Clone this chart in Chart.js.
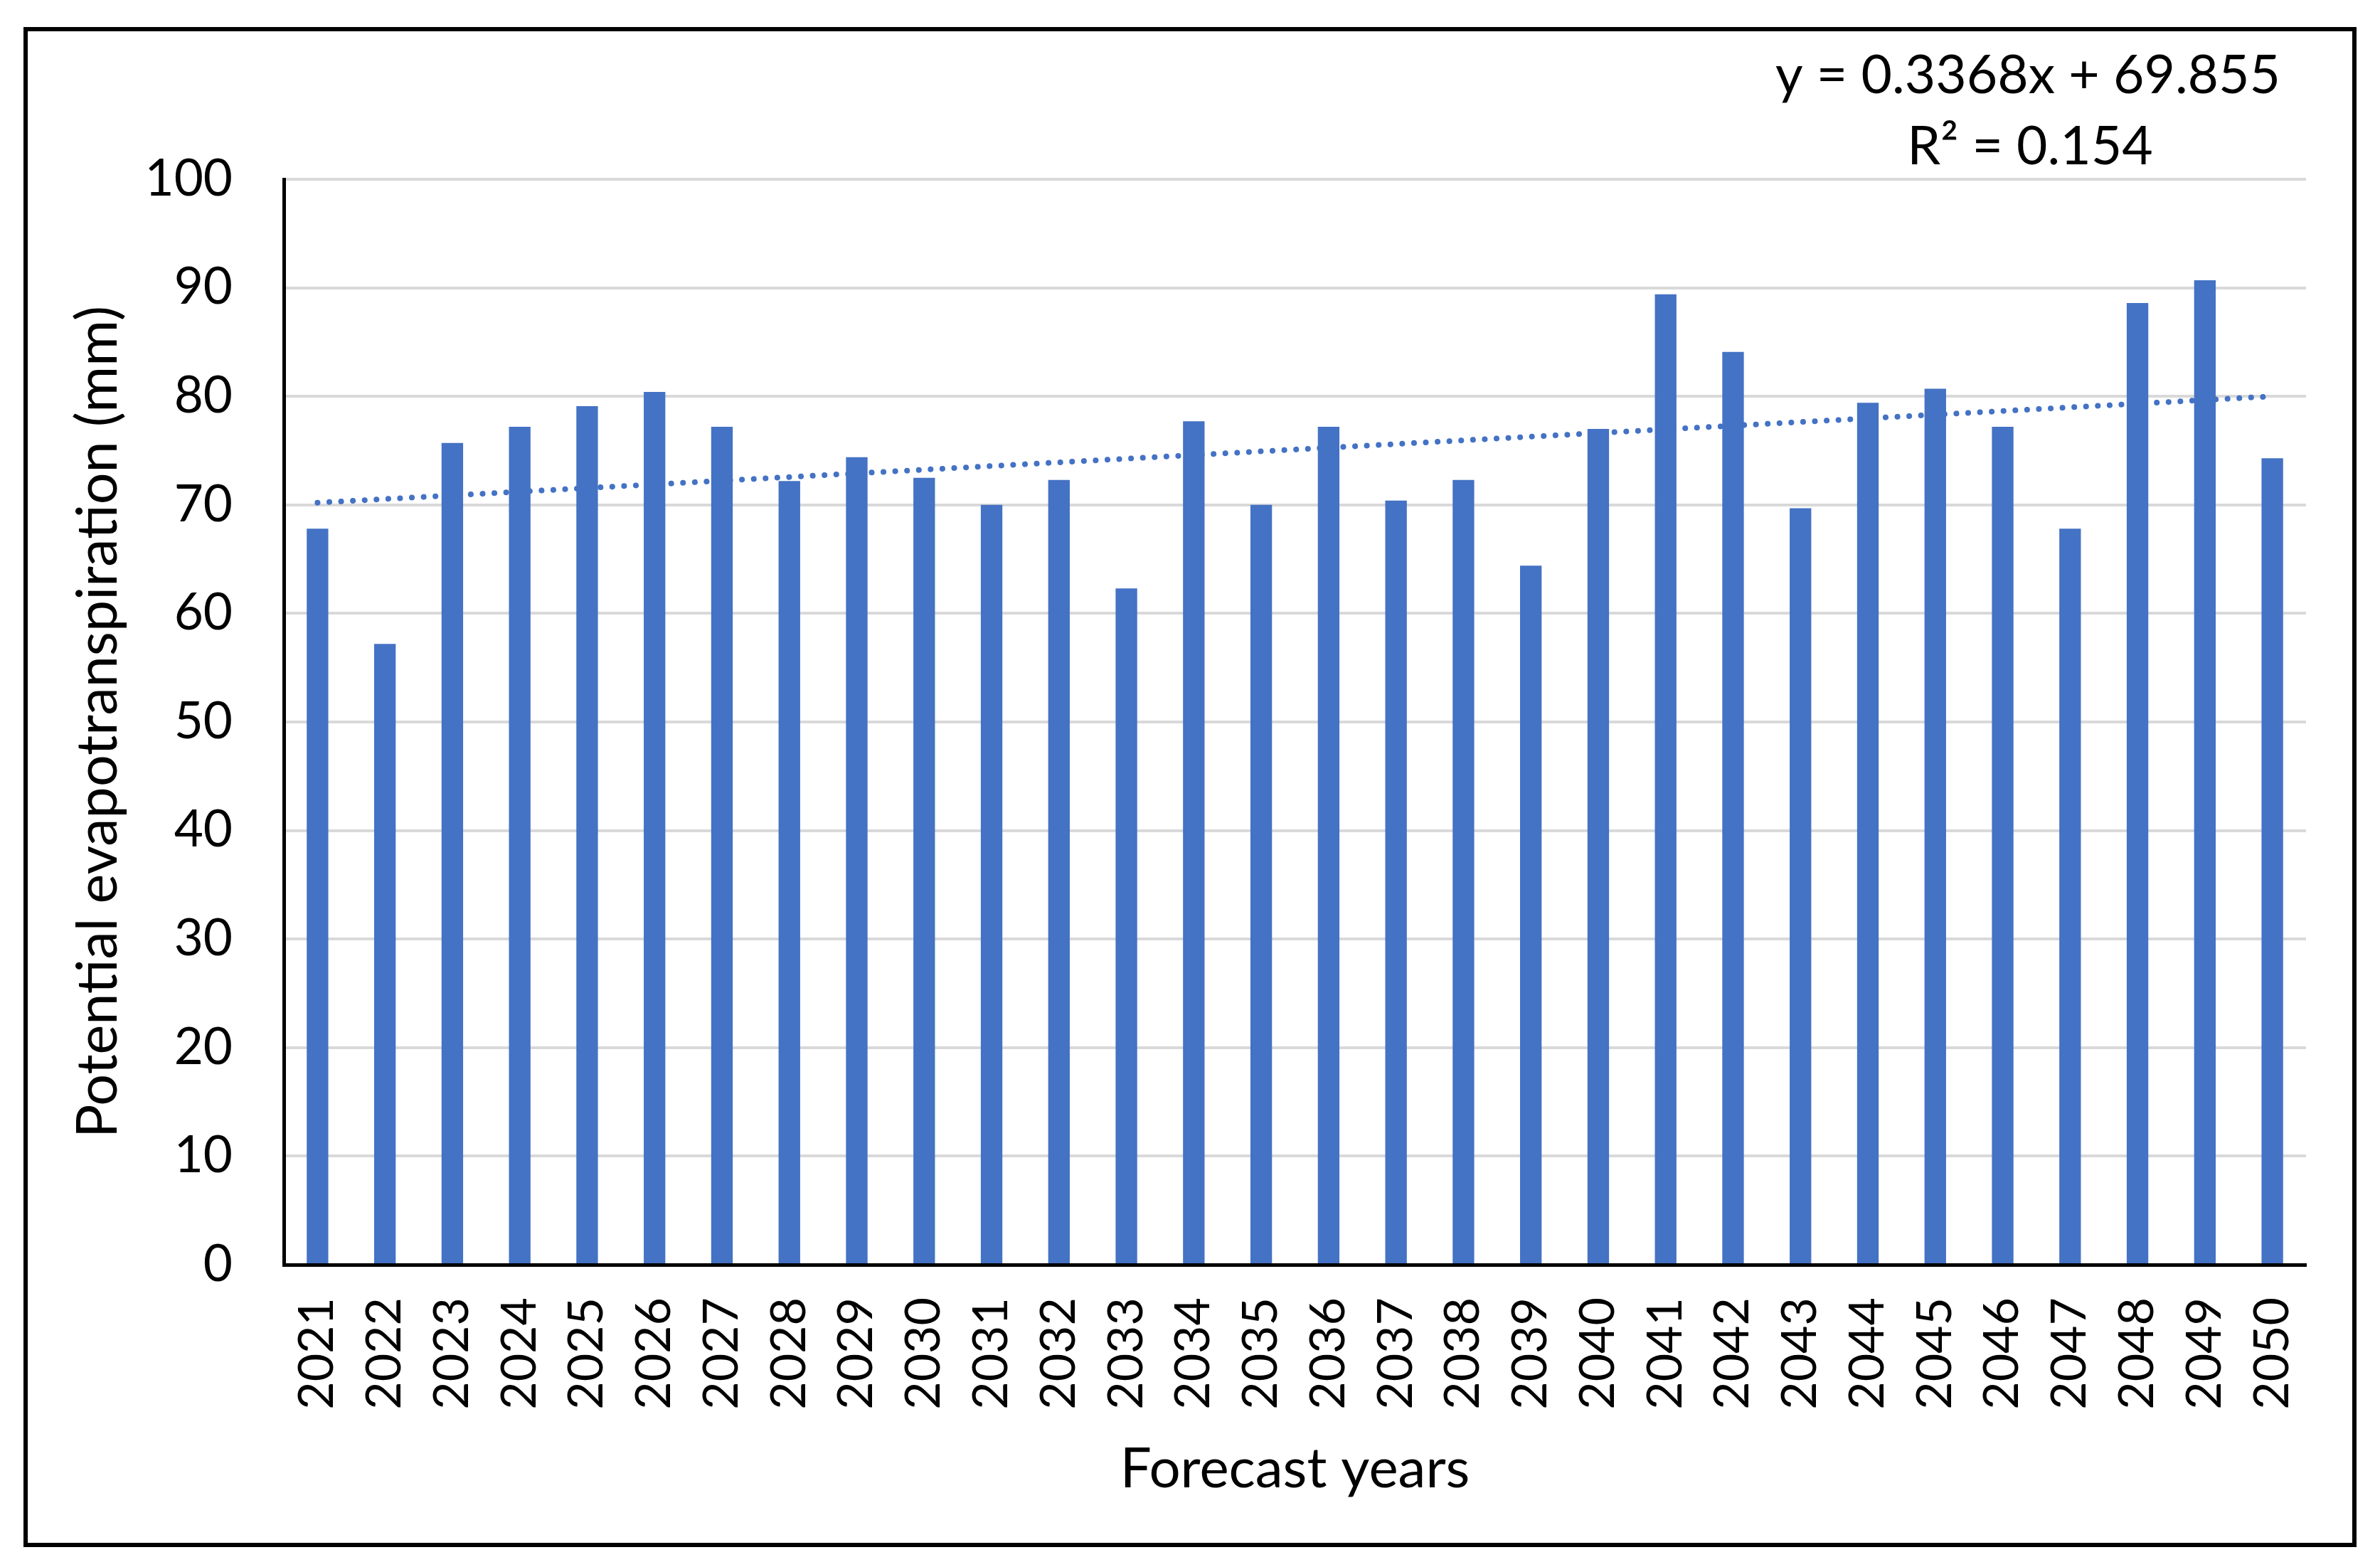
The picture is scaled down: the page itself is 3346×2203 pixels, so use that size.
<!DOCTYPE html>
<html>
<head>
<meta charset="utf-8">
<script src="https://cdn.jsdelivr.net/npm/chart.js@4.4.1/dist/chart.umd.min.js"></script>
<style>
  html, body { margin: 0; padding: 0; background: #ffffff; }
  #petCanvas { display: block; }
</style>
</head>
<body>
<canvas id="petCanvas" width="3346" height="2203" style="width:3346px;height:2203px;"></canvas>
<script>
// Données
var years = ["2021", "2022", "2023", "2024", "2025", "2026", "2027", "2028", "2029", "2030",
             "2031", "2032", "2033", "2034", "2035", "2036", "2037", "2038", "2039", "2040",
             "2041", "2042", "2043", "2044", "2045", "2046", "2047", "2048", "2049", "2050"];
var petValues = [67.8, 57.2, 75.7, 77.2, 79.1, 80.4, 77.2, 72.2, 74.4, 72.5,
                 70.0, 72.3, 62.3, 77.7, 70.0, 77.2, 70.4, 72.3, 64.4, 77.0,
                 89.4, 84.1, 69.7, 79.4, 80.7, 77.2, 67.8, 88.6, 90.7, 74.3];
// Extrémités de la courbe de tendance
var trendStart = 70.2;
var trendEnd = 80.0;
var yTicks = [0, 10, 20, 30, 40, 50, 60, 70, 80, 90, 100];
var equationLines = ["y = 0.3368x + 69.855", "R² = 0.154"];

var fontFamily = "Lato, 'Open Sans', sans-serif";

////////////////////////
// CADRE + EQUATION   //
////////////////////////

var framePlugin = {
  id: "frame",
  afterDraw: function(chart) {
    var ctx = chart.ctx;
    ctx.save();
    ctx.strokeStyle = "#000000";
    ctx.lineWidth = 6;
    ctx.strokeRect(36, 41, 3274, 2131);
    ctx.fillStyle = "#000000";
    ctx.font = "75px " + fontFamily;
    ctx.textAlign = "center";
    ctx.textBaseline = "middle";
    ctx.fillText(equationLines[0], 2851, 107);
    ctx.fillText(equationLines[1], 2854, 207);
    ctx.restore();
  }
};

// Création du Graph
var dataGraph = {
  type: "bar",
  data: {
    labels: years,
    datasets: [
      {
        type: "line",
        label: "Tendance",
        data: [
          { x: years[0], y: trendStart },
          { x: years[years.length - 1], y: trendEnd }
        ],
        borderColor: "#4472C4",
        borderWidth: 8,
        borderDash: [0.1, 16.5],
        borderCapStyle: "round",
        pointRadius: 0,
        fill: false,
        order: 0
      },
      {
        label: "Potential evapotranspiration",
        data: petValues,
        backgroundColor: "#4472C4",
        borderWidth: 0,
        barPercentage: 0.32,
        categoryPercentage: 1.0,
        order: 1
      }
    ]
  },
  options: {
    responsive: false,
    devicePixelRatio: 1,
    animation: false,
    layout: {
      padding: {
        left: 60,
        right: 104,
        top: 252,
        bottom: 80
      }
    },
    scales: {
      x: {
        offset: true,
        grid: { display: false, drawTicks: false },
        border: { display: true, color: "#000000", width: 5 },
        ticks: {
          color: "#000000",
          font: { family: fontFamily, size: 68 },
          minRotation: 90,
          maxRotation: 90,
          autoSkip: false,
          padding: 46
        },
        title: {
          display: true,
          text: "Forecast years",
          color: "#000000",
          font: { family: fontFamily, size: 78 },
          padding: { top: 0, bottom: 10 }
        },
        afterFit: function(scale) { scale.height = 345; }
      },
      y: {
        min: 0,
        max: 100,
        afterBuildTicks: function(scale) {
          scale.ticks = yTicks.map(function(v) { return { value: v }; });
        },
        grid: { color: "#D9D9D9", lineWidth: 4, drawTicks: false },
        border: { display: true, color: "#000000", width: 5 },
        ticks: {
          color: "#000000",
          font: { family: fontFamily, size: 71 },
          padding: 72
        },
        title: {
          display: true,
          text: "Potential evapotranspiration (mm)",
          color: "#000000",
          font: { family: fontFamily, size: 79 },
          padding: { top: 31, bottom: 0 }
        },
        afterFit: function(scale) { scale.width = 339; }
      }
    },
    plugins: {
      legend: { display: false },
      tooltip: { enabled: false },
      title: { display: false }
    }
  },
  plugins: [framePlugin]
};

// Création du diagramme
var myBarChart = new Chart(document.getElementById("petCanvas"), dataGraph);
</script>
</body>
</html>
